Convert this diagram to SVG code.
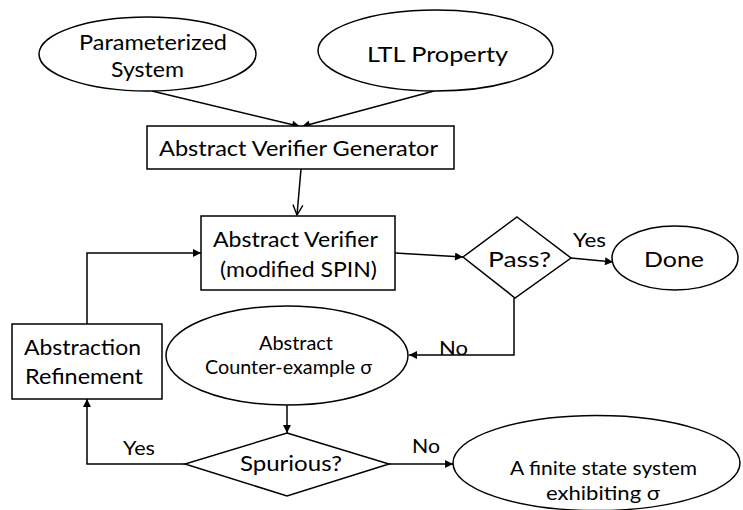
<svg xmlns="http://www.w3.org/2000/svg" width="743" height="510" viewBox="0 0 743 510">
  <defs>
    <marker id="arrow" viewBox="0 0 10 10" refX="10" refY="5" markerWidth="9" markerHeight="8" markerUnits="userSpaceOnUse" orient="auto">
      <path d="M0,0 L10,5 L0,10 Z" fill="#000"/>
    </marker>
    <marker id="open" viewBox="0 0 12 12" refX="11" refY="6" markerWidth="12" markerHeight="12" markerUnits="userSpaceOnUse" orient="auto">
      <path d="M1,1 L11,6 L1,11" fill="none" stroke="#000" stroke-width="1.4"/>
    </marker>
    <style>
      .shape { fill: #fff; stroke: #000; stroke-width: 1.5; }
      .edge { fill: none; stroke: #000; stroke-width: 1.5; }
      text { font-family: Lato, "Open Sans", "Noto Sans", sans-serif; fill: #000; }
      .big { font-size: 22px; }
      .small { font-size: 19px; }
      .lbl { font-size: 20px; }
    </style>
  </defs>
  <rect width="743" height="510" fill="#fff"/>

  <g id="connectors">
    <line class="edge" x1="152" y1="91" x2="300" y2="126.5" marker-end="url(#arrow)"/>
    <line class="edge" x1="434" y1="91" x2="302" y2="126.5" marker-end="url(#arrow)"/>
    <line class="edge" x1="301" y1="169" x2="297" y2="215" marker-end="url(#open)"/>
    <polyline class="edge" points="87,324 87,253 201,253" marker-end="url(#arrow)"/>
    <line class="edge" x1="395" y1="253" x2="463" y2="257" marker-end="url(#arrow)"/>
    <line class="edge" x1="571" y1="258" x2="613" y2="262" marker-end="url(#arrow)"/>
    <polyline class="edge" points="514,298 514,355 409,355" marker-end="url(#arrow)"/>
    <line class="edge" x1="287" y1="405" x2="287" y2="433" marker-end="url(#arrow)"/>
    <polyline class="edge" points="185,464 87,464 87,399" marker-end="url(#arrow)"/>
    <line class="edge" x1="389" y1="464" x2="453" y2="464" marker-end="url(#arrow)"/>
    <text class="lbl" x="573" y="247" textLength="33" lengthAdjust="spacingAndGlyphs">Yes</text>
    <text class="lbl" x="439" y="355" textLength="29" lengthAdjust="spacingAndGlyphs">No</text>
    <text class="lbl" x="123" y="455" textLength="32" lengthAdjust="spacingAndGlyphs">Yes</text>
    <text class="lbl" x="412" y="453" textLength="28" lengthAdjust="spacingAndGlyphs">No</text>
  </g>

  <g id="parameterized-system">
    <ellipse class="shape" cx="147.5" cy="54" rx="108.5" ry="37"/>
    <text class="big" x="79" y="50" textLength="148" lengthAdjust="spacingAndGlyphs">Parameterized</text>
    <text class="big" x="111" y="77" textLength="73" lengthAdjust="spacingAndGlyphs">System</text>
  </g>

  <g id="ltl-property">
    <ellipse class="shape" cx="435.5" cy="50.5" rx="117.5" ry="40.5"/>
    <text class="big" x="367" y="62" font-size="23" textLength="141" lengthAdjust="spacingAndGlyphs">LTL Property</text>
  </g>

  <g id="verifier-generator">
    <rect class="shape" x="147" y="126" width="307" height="43"/>
    <text class="big" x="159" y="156" textLength="279" lengthAdjust="spacingAndGlyphs">Abstract Verifier Generator</text>
  </g>

  <g id="abstract-verifier">
    <rect class="shape" x="201" y="216" width="194" height="74"/>
    <text class="big" x="213" y="247" textLength="165" lengthAdjust="spacingAndGlyphs">Abstract Verifier</text>
    <text class="big" x="220" y="277" textLength="157" lengthAdjust="spacingAndGlyphs">(modified SPIN)</text>
  </g>

  <g id="pass">
    <polygon class="shape" points="517,217 571,258 515,298 463,257"/>
    <text class="big" x="488" y="267" font-size="23" textLength="63" lengthAdjust="spacingAndGlyphs">Pass?</text>
  </g>

  <g id="done">
    <ellipse class="shape" cx="675" cy="258" rx="63" ry="32"/>
    <text class="big" x="644" y="267" textLength="60" lengthAdjust="spacingAndGlyphs">Done</text>
  </g>

  <g id="abstraction-refinement">
    <rect class="shape" x="12" y="324" width="150" height="75"/>
    <text class="big" x="24" y="355" textLength="117" lengthAdjust="spacingAndGlyphs">Abstraction</text>
    <text class="big" x="25" y="384" textLength="118" lengthAdjust="spacingAndGlyphs">Refinement</text>
  </g>

  <g id="counter-example">
    <ellipse class="shape" cx="287" cy="355.5" rx="121" ry="49.5"/>
    <text class="small" x="259" y="350" textLength="74" lengthAdjust="spacingAndGlyphs">Abstract</text>
    <text class="small" x="205" y="374" textLength="167" lengthAdjust="spacingAndGlyphs">Counter-example σ</text>
  </g>

  <g id="spurious">
    <polygon class="shape" points="287,433 389,464 287,496 185,464"/>
    <text class="big" x="240" y="471" font-size="21" textLength="102" lengthAdjust="spacingAndGlyphs">Spurious?</text>
  </g>

  <g id="finite-state-system">
    <ellipse class="shape" cx="596.5" cy="463" rx="143.5" ry="47.5"/>
    <text class="small" x="510" y="475" font-size="18" textLength="187" lengthAdjust="spacingAndGlyphs">A finite state system</text>
    <text class="small" x="546" y="500" font-size="18" textLength="114" lengthAdjust="spacingAndGlyphs">exhibiting σ</text>
  </g>
</svg>
